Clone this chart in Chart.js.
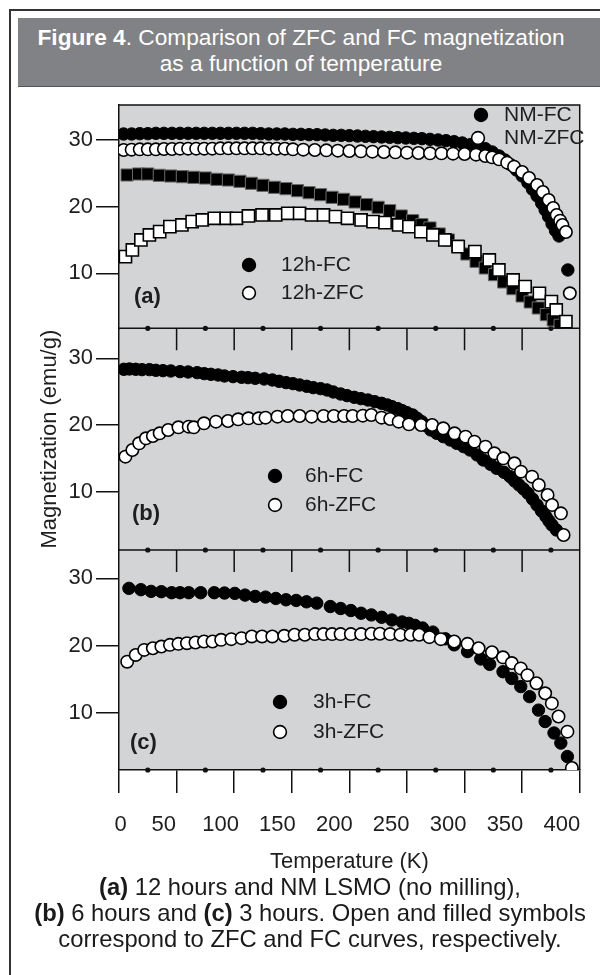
<!DOCTYPE html>
<html>
<head>
<meta charset="utf-8">
<script src="https://cdn.jsdelivr.net/npm/chart.js@4.4.0/dist/chart.umd.min.js"></script>
<style>
  body { margin: 0; background: #fff; font-family: "Liberation Sans", Arial, sans-serif; }
  #wrap { position: relative; width: 600px; height: 975px; overflow: hidden; }
  #frame { position: absolute; left: 9px; top: 9px; width: 600px; height: 990px;
           border-left: 2px solid #333; border-top: 2px solid #333; }
  #head { position: absolute; left: 18px; top: 18px; width: 582px; height: 69px; box-sizing: border-box;
          background: #818285; color: #fff; font-size: 22.7px; line-height: 26px; text-align: center;
          padding: 6px 16px 0 0; border-bottom: 1px solid #555; white-space: nowrap; }
  #cv { position: absolute; left: 0; top: 0; }
  #cap { position: absolute; left: 14px; width: 592px; top: 874px; text-align: center;
         font-size: 23.8px; line-height: 26px; color: #1a1a1a; white-space: nowrap; }
</style>
</head>
<body>
<div id="wrap">
  <div id="frame"></div>
  <div id="head"><b>Figure 4</b>. Comparison of ZFC and FC magnetization<br>as a function of temperature</div>
  <canvas id="cv" width="600" height="975"></canvas>
  <div id="cap"><b>(a)</b> 12 hours and NM LSMO (no milling),<br><b>(b)</b> 6 hours and <b>(c)</b> 3 hours. Open and filled symbols<br>correspond to ZFC and FC curves, respectively.</div>
</div>
<script>
// axis ticks
const tempTicks = [0, 50, 100, 150, 200, 250, 300, 350, 400];
const magTicks = [10, 20, 30];
const minorTemps = [25, 75, 125, 175, 225, 275, 325, 375];
const innerTemps = [50, 100, 150, 200, 250, 300, 350];

// (a) not milled, circles  [T (K), M (emu/g)]
const nmFC = [[4,30.9],[11,30.9],[18,30.95],[25,30.95],[32,31],[39,31],[46,31],[53,31],[60,31],[67,31],[74,31],[81,31],[88,31],[95,31],[102,31],[109,31],[116,31],[123,30.95],[130,30.9],[137,30.9],[144,30.9],[151,30.85],[158,30.85],[165,30.8],[172,30.8],[179,30.75],[186,30.7],[193,30.7],[200,30.65],[207,30.6],[214,30.55],[221,30.5],[228,30.45],[235,30.4],[242,30.35],[249,30.3],[256,30.25],[263,30.2],[270,30.1],[277,30],[284,29.9],[291,29.75],[298,29.55],[305,29.3],[312,29],[318,28.7],[324,28.2],[330,27.6],[335,27],[340,26.3],[345,25.5],[350,24.6],[355,23.6],[359,22.6],[363,21.6],[367,20.5],[370,19.5],[373,18.5],[376,17.4],[379,16.4],[382,15.6],[389.7,10.5]];
const nmZFC = [[4,28.5],[11,28.55],[18,28.6],[25,28.6],[32,28.6],[39,28.65],[46,28.65],[53,28.7],[60,28.7],[67,28.7],[74,28.7],[81,28.7],[88,28.75],[95,28.75],[102,28.75],[109,28.75],[116,28.75],[123,28.75],[130,28.7],[137,28.7],[144,28.7],[151,28.6],[160,28.55],[170,28.5],[180,28.45],[190,28.4],[200,28.35],[210,28.3],[220,28.25],[230,28.2],[240,28.15],[250,28.1],[260,28.05],[270,28],[280,28],[290,27.95],[300,27.9],[310,27.8],[318,27.6],[324,27.4],[330,27.1],[337,26.6],[343,26],[350,25.2],[356,24.3],[363,23.25],[368,22.2],[373,21],[377,19.8],[380,18.75],[383,17.9],[385,17.25],[388,16.2],[391.4,7]];
// (a) 12 h milled, squares
const h12FC = [[7,24.75],[17,24.9],[25,24.9],[35,24.7],[45,24.6],[55,24.5],[65,24.4],[75,24.3],[85,24.1],[95,24],[105,23.8],[115,23.5],[125,23.2],[135,22.9],[145,22.7],[155,22.4],[165,22.1],[175,21.8],[185,21.4],[195,21.1],[205,20.7],[215,20.3],[225,19.9],[235,19.4],[245,18.6],[255,17.9],[263,17.3],[270,16.8],[278,15.9],[286,15],[294,14.1],[302,12.9],[310,11.8],[318,10.8],[326,9.8],[334,8.7],[342,7.7],[350,6.6],[357,5.7],[364,4.8],[371,3.8],[377,3],[383,2.2]];
const h12ZFC = [[5.6,12.5],[11.6,13.5],[19,15],[26.4,15.75],[35.3,16.25],[44.2,17],[54.6,17.25],[63.5,17.75],[72.3,18],[82.7,18.25],[93.1,18.25],[102,18.25],[112.4,18.6],[124.2,18.75],[136.1,18.75],[146.5,19],[156.8,19],[167.2,18.75],[177.6,18.75],[188,18.5],[198.4,18.25],[210.2,18],[220.6,17.75],[231,17.6],[242.8,17.25],[251.7,17],[262.1,16.25],[272.5,15.75],[282.9,15],[294.5,14],[309,13.25],[321.5,12],[329.8,10.5],[342.2,9],[352.6,8],[365,7],[375.4,5.75],[379.6,4.5],[388,2.75]];
// (b) 6 h milled
const h6FC = [[4.2,28.35],[9,28.4],[14.5,28.35],[20,28.3],[26.4,28.3],[32,28.2],[38.2,28.15],[45,28.1],[53,28],[60,27.95],[67.9,27.85],[74,27.7],[79.8,27.6],[86,27.5],[91.6,27.35],[99,27.25],[106.4,27.15],[112,27.1],[118.3,27],[126,26.9],[133.1,26.75],[139,26.55],[145,26.35],[151,26.2],[156.8,26],[163,25.8],[168.7,25.6],[175,25.45],[180.6,25.25],[186,24.95],[192.4,24.65],[198,24.4],[204.3,24.15],[210,23.95],[216.1,23.75],[222,23.5],[228,23.25],[233,23],[237,22.75],[242,22.45],[246,22.15],[250,21.85],[255,21.5],[258.9,21],[262.8,20.5],[266.7,19.9],[270.6,19.25],[275.8,18.75],[281.5,18.25],[287.5,17.75],[293.1,17.25],[299.2,16.75],[304.7,16.25],[310.9,15.5],[316.2,14.75],[322.6,14.1],[327.8,13.5],[334.3,12.9],[339.5,12.25],[343.4,11.6],[347.3,11],[351.2,10.4],[355.1,9.75],[359,8.9],[362.9,8],[366.8,7.1],[370.7,6.25],[373.3,5.6],[375.9,5],[379.8,4.25]];
const h6ZFC = [[5.6,15.25],[11.6,16.25],[17.5,17.25],[23.4,18],[29.4,18.35],[35.3,18.75],[42.7,19.25],[51.6,19.65],[60.5,19.75],[64.9,19.65],[73.8,20.25],[84.2,20.5],[94.6,20.6],[103.5,20.85],[112.4,21],[121.3,21],[127.2,21.1],[137.6,21.25],[146.5,21.35],[156.8,21.35],[167.2,21.25],[177.6,21.35],[186.5,21.35],[195.4,21.35],[202.8,21.35],[211.7,21.4],[219.1,21.5],[228,21.1],[235.4,20.9],[242.8,20.5],[251.7,20.1],[262.3,20],[271.9,20],[281.5,19.5],[291.3,18.75],[300.9,18.25],[308.6,17.5],[318.2,16.75],[325.9,15.75],[333.7,15],[343.3,14.25],[349,13],[358.6,12.25],[364.5,11],[372.1,9.5],[376,8],[383.7,6.75],[386,3.5]];
// (c) 3 h milled
const h3FC = [[8.6,28.5],[19,28.3],[27.9,28.05],[36.8,28],[45.7,27.85],[53,27.85],[60.5,27.85],[70.9,27.85],[82.7,27.85],[91.6,27.8],[100.5,27.75],[109.4,27.5],[118.3,27.3],[127.2,27.2],[136.1,27],[145,26.8],[153.9,26.7],[162.8,26.5],[171.7,26.3],[183.5,25.8],[192.4,25.5],[201.3,25.2],[210.2,24.8],[219.1,24.55],[228,24.2],[236.9,23.8],[245.8,23.5],[251.7,23.3],[257,23],[263.6,22.6],[272.5,22],[283.3,21],[291,20.1],[302.6,19.1],[314.1,18],[321.8,17.2],[333.4,16.1],[341,15.1],[348.8,13.9],[356.5,12.4],[364.2,10.4],[370,8.7],[377.7,7],[383.6,5.5],[389.3,3.5]];
const h3ZFC = [[7.1,17.6],[14.5,18.6],[21.9,19.35],[29.4,19.6],[36.8,19.85],[44.2,20.1],[51.6,20.25],[59,20.35],[66.4,20.45],[73.8,20.6],[81.2,20.6],[88.7,20.85],[97.5,20.95],[106.4,21.1],[115.3,21.35],[124.2,21.35],[133.1,21.35],[143.5,21.45],[152.4,21.6],[161.3,21.6],[170.2,21.7],[177.6,21.7],[185,21.7],[192.4,21.7],[201.3,21.7],[210.2,21.7],[219.1,21.75],[226.5,21.75],[235.4,21.7],[244.3,21.6],[253.2,21.6],[260.6,21.6],[269.5,21.25],[279.4,20.95],[291,20.6],[302.6,20.25],[312.2,19.6],[323.8,19],[333.4,18.25],[341,17.4],[348.8,16.6],[354.6,15.6],[362.4,14.4],[370,12.9],[375.8,11.4],[381.6,9.45],[389.3,7.2],[393.2,1.8]];

const fam = '"Liberation Sans", Arial, sans-serif';
const ink = '#111';
const txt = '#1e1e1e';

const series = (label, rows, axis, shape, open) => ({
  label: label,
  data: rows.map(([x, y]) => ({ x, y })),
  yAxisID: axis,
  showLine: false,
  pointStyle: shape,
  pointRadius: shape === 'rect' ? 8.6 : 6.2,
  pointBackgroundColor: open ? '#fff' : '#000',
  pointBorderColor: open ? '#000' : (shape === 'rect' ? '#6a6a6a' : '#000'),
  pointBorderWidth: open ? 1.6 : 1,
  order: open ? 0 : 1
});

// in-panel legends and panel letters (pixel layout)
const keys = [
  { x: 481, y: 115, open: false, text: 'NM-FC', tx: 504 },
  { x: 478, y: 138, open: true, text: 'NM-ZFC', tx: 504 },
  { x: 249, y: 265, open: false, text: '12h-FC', tx: 281 },
  { x: 249, y: 293, open: true, text: '12h-ZFC', tx: 281 },
  { x: 275, y: 476, open: false, text: '6h-FC', tx: 305 },
  { x: 275, y: 505, open: true, text: '6h-ZFC', tx: 305 },
  { x: 280, y: 702, open: false, text: '3h-FC', tx: 313 },
  { x: 280, y: 732, open: true, text: '3h-ZFC', tx: 313 }
];
const letters = [
  { text: '(a)', x: 134, y: 297 },
  { text: '(b)', x: 132, y: 514 },
  { text: '(c)', x: 130, y: 743 }
];

const decor = {
  id: 'decor',
  beforeDraw(chart) {
    const { ctx, chartArea: a } = chart;
    ctx.save();
    ctx.fillStyle = '#d3d4d6';
    ctx.fillRect(a.left, a.top, a.right - a.left, a.bottom - a.top);
    ctx.restore();
  },
  beforeDatasetsDraw(chart) {
    const { ctx, chartArea: a, scales } = chart;
    const x = scales.x;
    ctx.save();
    ctx.strokeStyle = ink;
    ctx.lineWidth = 1.5;
    ctx.beginPath();
    ctx.moveTo(a.left, a.top);
    ctx.lineTo(a.right, a.top);
    ctx.lineTo(a.right, a.bottom);
    ctx.stroke();
    const cuts = [scales.yA.bottom, scales.yB.bottom];
    cuts.forEach(y => {
      ctx.beginPath();
      ctx.moveTo(a.left, y);
      ctx.lineTo(a.right, y);
      innerTemps.forEach(t => {
        const px = x.getPixelForValue(t);
        ctx.moveTo(px, y);
        ctx.lineTo(px, y + 22);
      });
      ctx.stroke();
    });
    ctx.fillStyle = ink;
    cuts.concat([a.bottom]).forEach(y => {
      minorTemps.forEach(t => {
        ctx.beginPath();
        ctx.arc(x.getPixelForValue(t), y, 2.6, 0, Math.PI * 2);
        ctx.fill();
      });
    });
    ctx.restore();
  },
  afterDatasetsDraw(chart) {
    const { ctx } = chart;
    ctx.save();
    ctx.textBaseline = 'middle';
    ctx.textAlign = 'left';
    keys.forEach(k => {
      ctx.beginPath();
      ctx.arc(k.x, k.y, 6.4, 0, Math.PI * 2);
      ctx.fillStyle = k.open ? '#fff' : '#000';
      ctx.fill();
      ctx.lineWidth = 1.6;
      ctx.strokeStyle = '#000';
      ctx.stroke();
      ctx.fillStyle = txt;
      ctx.font = '21px ' + fam;
      ctx.fillText(k.text, k.tx, k.y);
    });
    ctx.font = 'bold 22px ' + fam;
    letters.forEach(l => ctx.fillText(l.text, l.x, l.y));
    ctx.restore();
  }
};

const tickFont = { family: fam, size: 22 };
const yBase = (lo, hi, weight) => ({
  type: 'linear',
  position: 'left',
  stack: 'm',
  stackWeight: weight,
  min: lo,
  max: hi,
  afterBuildTicks: s => { s.ticks = magTicks.map(v => ({ value: v })); },
  afterFit: s => { s.width = 82; },
  grid: { drawOnChartArea: false, tickLength: 23, color: ink, lineWidth: 1.5 },
  border: { color: ink, width: 1.5 },
  ticks: { font: tickFont, color: txt, padding: 3 }
});

const yMid = yBase(1.25, 34.5, 221.7);
yMid.title = { display: true, text: 'Magnetization (emu/g)', font: tickFont, color: txt, padding: { top: 0, bottom: 0 } };

new Chart(document.getElementById('cv'), {
  type: 'scatter',
  data: {
    datasets: [
      series('NM-ZFC', nmZFC, 'yA', 'circle', true),
      series('NM-FC', nmFC, 'yA', 'circle', false),
      series('12h-ZFC', h12ZFC, 'yA', 'rect', true),
      series('12h-FC', h12FC, 'yA', 'rect', false),
      series('6h-ZFC', h6ZFC, 'yB', 'circle', true),
      series('6h-FC', h6FC, 'yB', 'circle', false),
      series('3h-ZFC', h3ZFC, 'yC', 'circle', true),
      series('3h-FC', h3FC, 'yC', 'circle', false)
    ]
  },
  options: {
    responsive: false,
    animation: false,
    events: [],
    devicePixelRatio: 1,
    layout: { padding: { left: 37, top: 105, right: 17, bottom: 100 } },
    plugins: { legend: { display: false }, tooltip: { enabled: false } },
    scales: {
      x: {
        type: 'linear',
        position: 'bottom',
        min: 0,
        max: 400,
        afterBuildTicks: s => { s.ticks = tempTicks.map(v => ({ value: v })); },
        afterFit: s => { s.height = 23; },
        ticks: { display: false },
        grid: { drawOnChartArea: false, tickLength: 23, color: ink, lineWidth: 1.5 },
        border: { color: ink, width: 1.5 }
      },
      // label row: the printed numbers sit a little left of the tick marks
      xLab: {
        type: 'linear',
        position: 'bottom',
        min: 10.7,
        max: 415.7,
        afterBuildTicks: s => { s.ticks = tempTicks.map(v => ({ value: Math.max(v, 12.2) })); },
        afterFit: s => { s.height = 82; },
        ticks: { font: tickFont, color: txt, padding: 19, autoSkip: false, maxRotation: 0,
                 callback: (v, i) => tempTicks[i] },
        grid: { display: false, drawTicks: false },
        border: { display: false },
        title: { display: true, text: 'Temperature (K)', font: tickFont, color: txt, padding: { top: 0, bottom: 0 } }
      },
      yC: yBase(1.5, 34.2, 220),
      yB: yMid,
      yA: yBase(1.75, 35.25, 223.3)
    }
  },
  plugins: [decor]
});
</script>
</body>
</html>
